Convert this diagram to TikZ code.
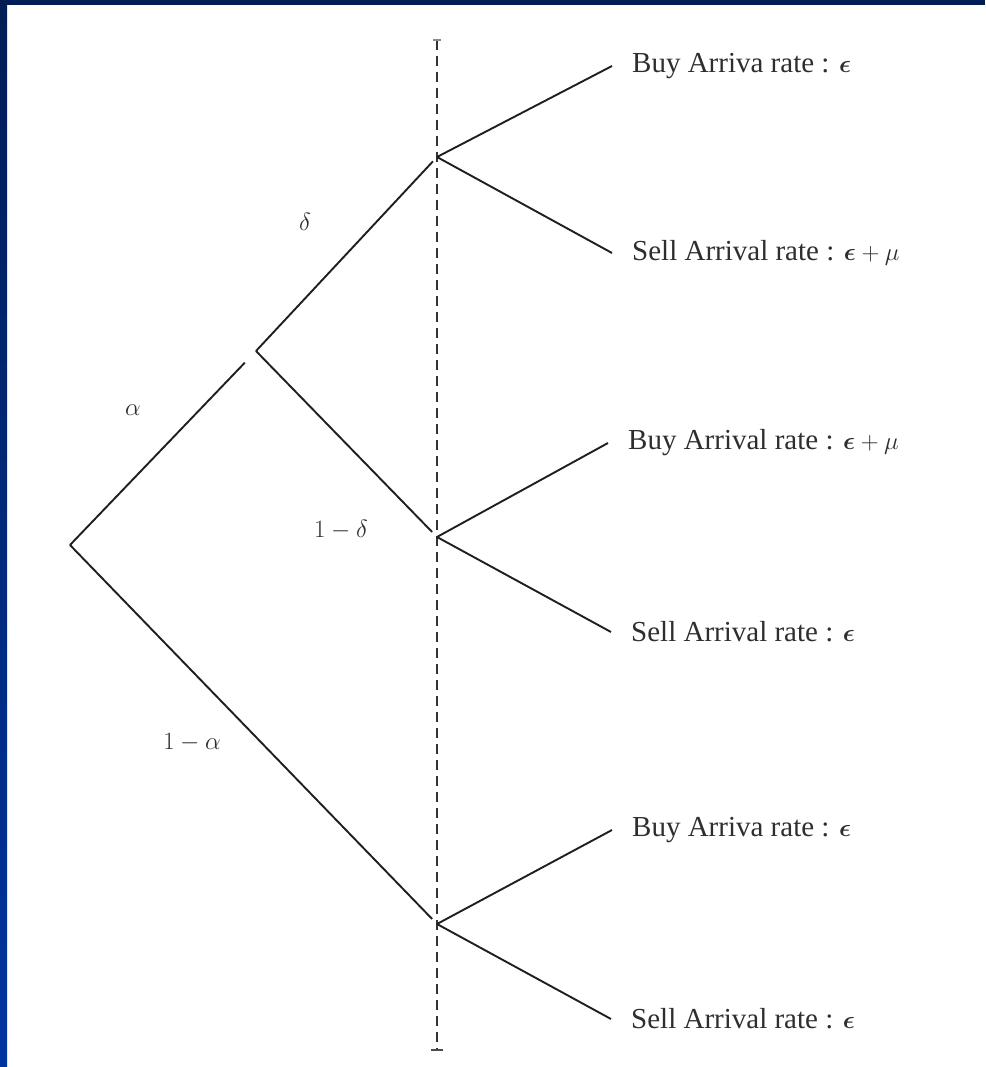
\documentclass[tikz,border=0pt]{standalone}
\usepackage{amsmath}
\usepackage{fontspec}
\setmainfont{Liberation Serif}
\usetikzlibrary{calc}
\newcommand{\eps}{\boldsymbol{\epsilon}}
\begin{document}
\begin{tikzpicture}[x=1pt,y=-1pt,
  edge/.style={line width=1.9pt, black!88, line cap=butt},
  lab/.style={anchor=west, inner xsep=20pt, inner ysep=0pt, font=\fontsize{29}{34}\selectfont, text=black!82},
  prob/.style={inner sep=0pt, font=\fontsize{27}{31}\selectfont, text=black!82}]
\useasboundingbox (0,0) rectangle (985,1067);
\fill[white] (0,0) rectangle (985,1067);
\fill[fill={rgb,255:red,0;green,30;blue,85}] (0,0) rectangle (985,5);
\shade[top color={rgb,255:red,0;green,30;blue,85}, bottom color={rgb,255:red,0;green,52;blue,160}] (0,0) rectangle (7,1067);

% tree points
\coordinate (root) at (70,545);
\coordinate (dn) at (256,351);
\coordinate (t) at (437,157);
\coordinate (m) at (437,537);
\coordinate (b) at (437,924);
\coordinate (vtop) at (437,40);
\coordinate (vbot) at (437,1050);

% dashed vertical line
\draw[line width=1.6pt, black!80, dash pattern=on 10pt off 6pt] (vtop) -- (vbot);
\draw[line width=2pt, black!45] ([xshift=-4pt]vtop) -- ([xshift=4pt]vtop);
\draw[line width=2pt, black!70] ([xshift=-6pt]vbot) -- ([xshift=6pt]vbot);

% labels
\node[lab] (l1) at (612,66) {Buy Arriva rate : $\eps$};
\node[lab] (l2) at (612,253) {Sell Arrival rate : $\eps+\mu$};
\node[lab] (l3) at (608,443) {Buy Arrival rate : $\eps+\mu$};
\node[lab] (l4) at (611,632) {Sell Arrival rate : $\eps$};
\node[lab] (l5) at (612,830) {Buy Arriva rate : $\eps$};
\node[lab] (l6) at (611,1019) {Sell Arrival rate : $\eps$};

% branches
\draw[edge] (root) -- ($(root)!0.94!(dn)$);
\draw[edge, shorten >=6pt] (dn) -- (t);
\draw[edge, shorten >=7pt] (dn) -- (m);
\draw[edge, shorten >=7pt] (root) -- (b);
\draw[edge] (t) -- (l1.west);
\draw[edge] (t) -- (l2.west);
\draw[edge] (m) -- (l3.west);
\draw[edge] (m) -- (l4.west);
\draw[edge] (b) -- (l5.west);
\draw[edge] (b) -- (l6.west);

% probabilities
\node[prob] (pd) at (305,222) {$\delta$};
\node[prob] (pa) at (133,410) {$\alpha$};
\node[prob] (pnd) at (341,530) {$1-\delta$};
\node[prob] (pna) at (192,743) {$1-\alpha$};
\end{tikzpicture}
\end{document}
